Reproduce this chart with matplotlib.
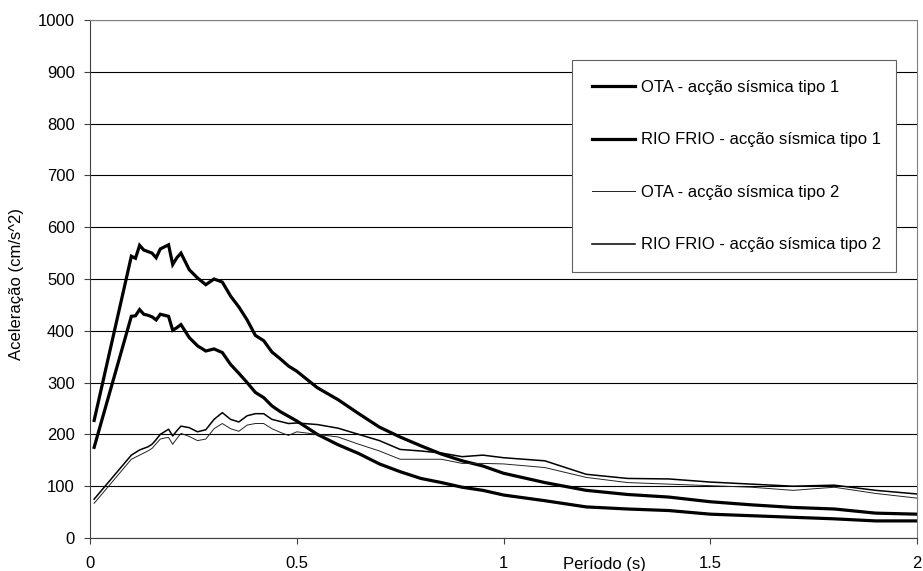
import matplotlib.pyplot as plt
import numpy as np

# 폰트 설정
plt.rcParams['font.family'] = ['Liberation Sans', 'DejaVu Sans']

# 데이터 (período em s, aceleração em cm/s^2)
periodo = [0.01, 0.10, 0.11, 0.12, 0.13, 0.14, 0.15, 0.16, 0.17, 0.18, 0.19, 0.20, 0.21, 0.22,
           0.24, 0.26, 0.28, 0.30, 0.32, 0.34, 0.36, 0.38, 0.40, 0.42, 0.44, 0.46, 0.48, 0.50,
           0.55, 0.60, 0.65, 0.70, 0.75, 0.80, 0.85, 0.90, 0.95, 1.00,
           1.10, 1.20, 1.30, 1.40, 1.50, 1.60, 1.70, 1.80, 1.90, 2.00]

ota_tipo1 = [227, 544, 540, 565, 556, 553, 550, 541, 558, 562, 566, 528, 541, 550,
             518, 502, 489, 500, 494, 467, 446, 421, 391, 381, 359, 346, 332, 322,
             290, 267, 240, 214, 195, 178, 162, 149, 139, 125,
             107, 92, 84, 79, 70, 64, 59, 56, 48, 46]

rio_tipo1 = [175, 428, 429, 441, 432, 430, 427, 421, 432, 430, 428, 401, 406, 412,
             387, 371, 361, 365, 358, 335, 318, 300, 281, 271, 255, 244, 235, 226,
             200, 180, 163, 143, 128, 115, 107, 98, 92, 83,
             72, 60, 56, 53, 46, 43, 40, 37, 33, 33]

ota_tipo2 = [67, 152, 156, 160, 164, 168, 173, 182, 191, 193, 194, 181, 192, 202,
             196, 188, 191, 211, 221, 211, 206, 218, 221, 221, 211, 204, 198, 205,
             200, 195, 181, 168, 152, 152, 152, 144, 144, 143,
             136, 117, 107, 104, 101, 98, 92, 98, 86, 77]

rio_tipo2 = [75, 160, 165, 170, 173, 176, 181, 190, 200, 205, 210, 197, 207, 216,
             213, 205, 209, 229, 242, 229, 224, 236, 240, 240, 229, 225, 221, 222,
             219, 212, 200, 188, 171, 168, 164, 157, 160, 155,
             149, 123, 115, 114, 108, 104, 100, 102, 92, 85]

labels = ['OTA - acção sísmica tipo 1', 'RIO FRIO - acção sísmica tipo 1',
          'OTA - acção sísmica tipo 2', 'RIO FRIO - acção sísmica tipo 2']

fig = plt.figure(figsize=(9.23, 5.71), dpi=100)
ax = fig.add_axes([90/923, 1 - 538/571, 827/923, 518/571])

ax.plot(periodo, ota_tipo1, color='black', lw=2.3, label=labels[0], solid_joinstyle='miter')
ax.plot(periodo, rio_tipo1, color='black', lw=2.3, label=labels[1], solid_joinstyle='miter')
ax.plot(periodo, ota_tipo2, color='#222222', lw=0.7, label=labels[2])
ax.plot(periodo, rio_tipo2, color='black', lw=1.1, label=labels[3])

# 축 설정
ax.set_xlim(0, 2)
ax.set_ylim(0, 1000)
ax.set_xticks([0, 0.5, 1, 1.5, 2])
ax.set_xticklabels(['0', '0.5', '1', '1.5', '2'])
ax.set_yticks(np.arange(0, 1001, 100))
ax.tick_params(direction='out', length=4, width=0.8, color='#404040', labelsize=12)
ax.tick_params(axis='x', pad=9)
ax.tick_params(axis='y', pad=7)
ax.yaxis.grid(True, color='black', lw=0.8)
ax.set_axisbelow(True)

for s in ['left', 'bottom']:
    ax.spines[s].set_color('#404040')
    ax.spines[s].set_linewidth(0.8)
for s in ['top', 'right']:
    ax.spines[s].set_color('#808080')
    ax.spines[s].set_linewidth(0.8)

# 축 제목
fig.text(17/923, 1 - 284/571, 'Aceleração (cm/s^2)', fontsize=12, rotation=90,
         ha='center', va='center')
fig.text(604/923, 1 - 564/571, 'Período (s)', fontsize=12, ha='center', va='center')

# 범례
leg = ax.legend(loc='upper left', bbox_to_anchor=(0.583, 0.923, 0.392, 0.0), mode='expand',
                fontsize=12, frameon=True, fancybox=False, framealpha=1,
                labelspacing=2.25, borderpad=1.2, handlelength=2.6, handletextpad=0.35,
                borderaxespad=0)
leg.get_frame().set_edgecolor('#606060')
leg.get_frame().set_linewidth(0.8)

plt.savefig('out.png', dpi=100)
